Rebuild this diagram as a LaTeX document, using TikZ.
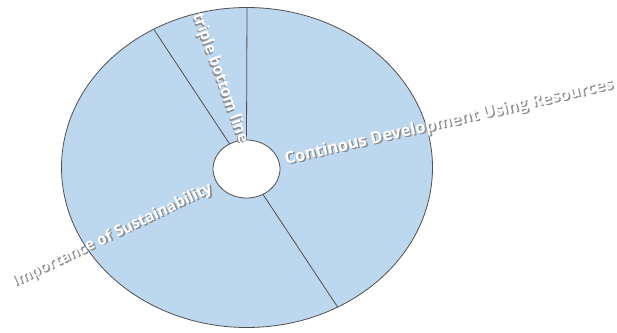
\documentclass[tikz,border=0pt]{standalone}
\usepackage{fontspec}
\setmainfont{Open Sans}
\usetikzlibrary{shapes.geometric}
\definecolor{slice}{HTML}{BDD7EE}
\definecolor{edge}{HTML}{505050}
\definecolor{txtshadow}{HTML}{8C8C8C}
\newcommand{\shadowtext}[1]{\makebox[0pt][l]{\hspace{1.3pt}\raisebox{-1.3pt}{\textcolor{txtshadow}{#1}}}#1}
\begin{document}
\begin{tikzpicture}[x=1pt,y=1pt,
  ring/.style={ellipse, draw=edge, line width=0.8pt, inner sep=0pt, outer sep=0pt},
  divider/.style={draw=edge, line width=0.8pt},
  lbl/.style={font=\bfseries\fontsize{15.5}{17}\selectfont, text=white, inner sep=0pt, anchor=west},
  biglbl/.style={lbl, font=\bfseries\fontsize{16.5}{18}\selectfont}]
\useasboundingbox (0,0) rectangle (617,332);
\node[ring, fill=slice, minimum width=371pt, minimum height=320pt] (outer) at (247,164.5) {};
\node[ring, fill=white, minimum width=67pt, minimum height=58pt] (inner) at (246.5,163) {};
\draw[divider] (inner.90) -- (outer.90);
\draw[divider] (inner.124) -- (outer.124);
\draw[divider] (inner.-57) -- (outer.-57);
\node[lbl, rotate=-70] (tbl) at (196,318) {\shadowtext{triple bottom line}};
\node[lbl, rotate=25.6] (imp) at (13,48) {\shadowtext{Importance of Sustainability}};
\node[biglbl, rotate=13] (con) at (285,171) {\shadowtext{Continous Development Using Resources}};
\end{tikzpicture}
\end{document}
